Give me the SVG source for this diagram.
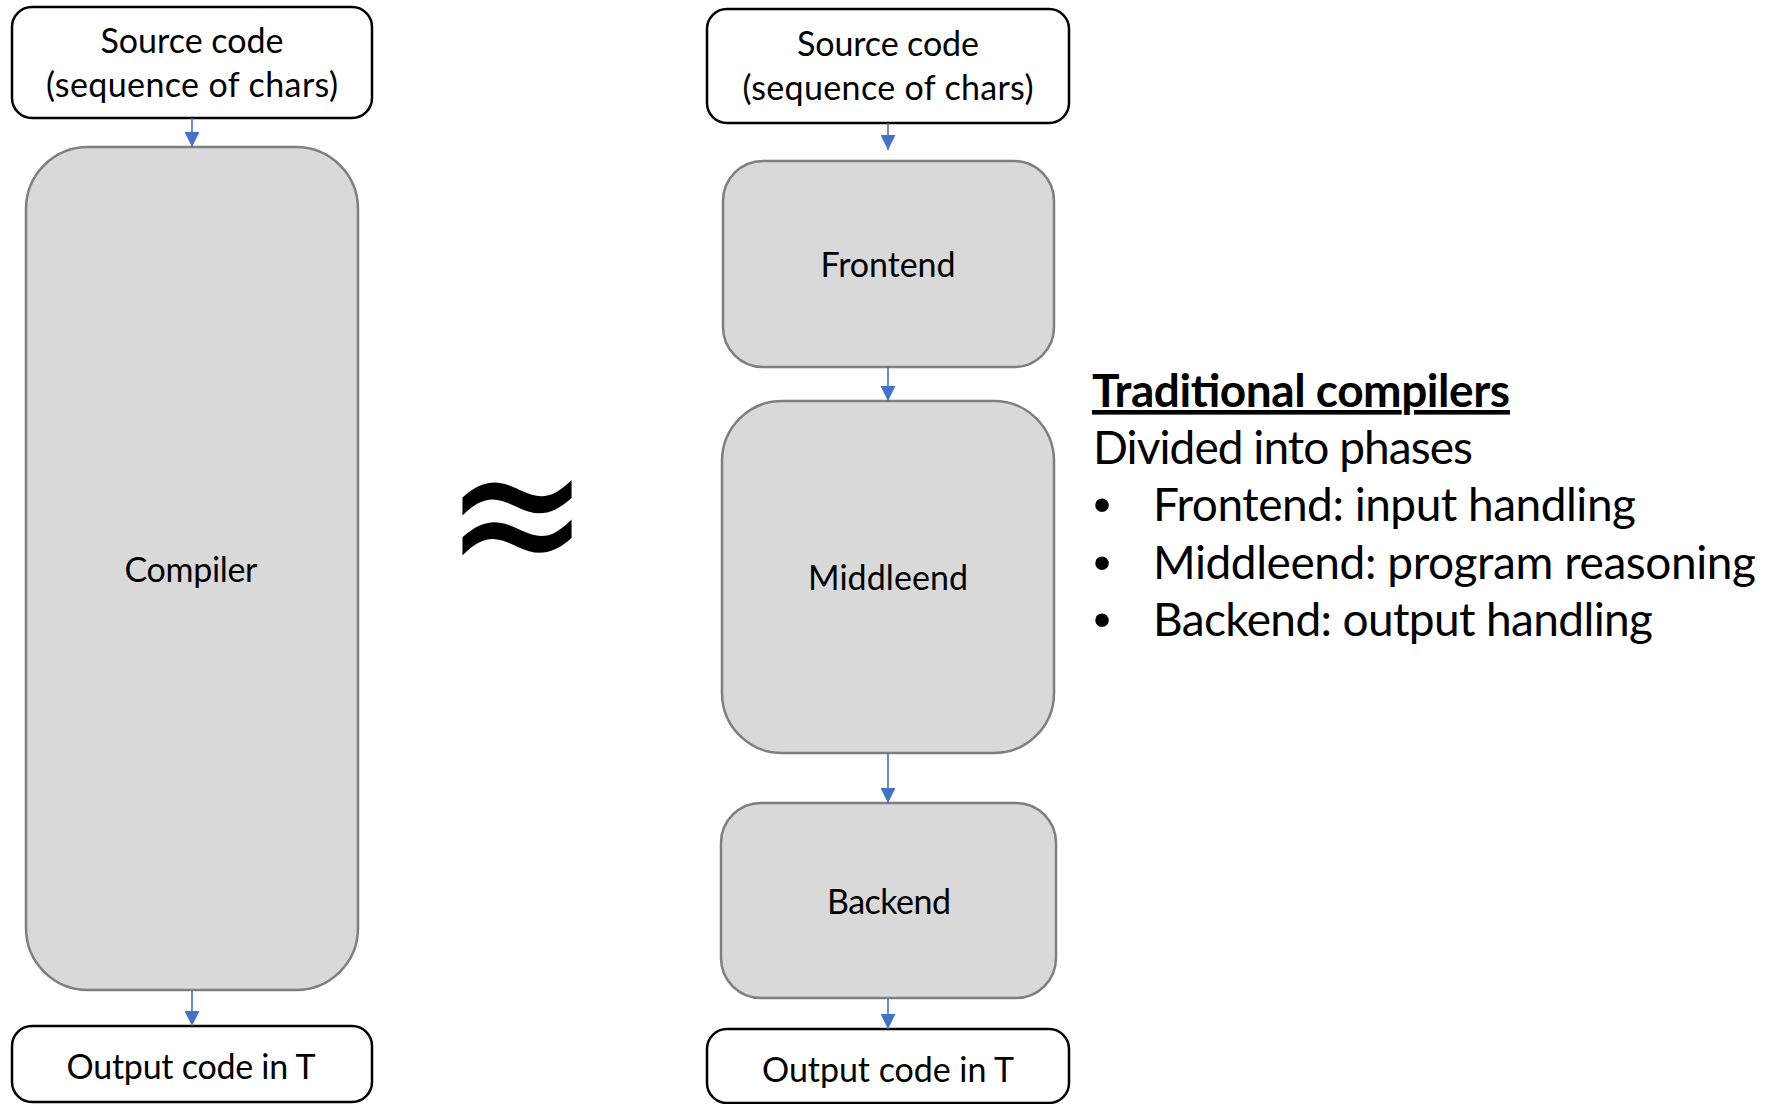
<svg xmlns="http://www.w3.org/2000/svg" width="1768" height="1104" viewBox="0 0 1768 1104">
  <defs>
    <marker id="arrowhead" markerUnits="userSpaceOnUse" markerWidth="15" markerHeight="15" viewBox="0 0 15 15" refX="15" refY="7.5" orient="auto">
      <path d="M0,0 L15,7.5 L0,15 z" fill="#4472c4"/>
    </marker>
    <style>
      .io { fill: #ffffff; stroke: #000000; stroke-width: 2.5; }
      .phase { fill: #d9d9d9; stroke: #7f7f7f; stroke-width: 2.5; }
      .label { font-family: Lato, "Liberation Sans", sans-serif; font-size: 34px; fill: #000000; text-anchor: middle; }
      .body { font-family: Lato, "Liberation Sans", sans-serif; font-size: 46px; fill: #000000; }
      .heading { font-weight: bold; text-decoration: underline; }
      .bullet { font-family: "Liberation Sans", sans-serif; font-size: 50px; fill: #000000; text-anchor: middle; }
      .flow { stroke: #4472c4; stroke-width: 1.6; fill: none; marker-end: url(#arrowhead); }
    </style>
  </defs>
  <rect width="1768" height="1104" fill="#ffffff"/>

  <!-- monolithic compiler -->
  <g id="src-left">
    <rect class="io" x="12" y="7" width="360" height="111" rx="20"/>
    <text class="label" x="192" y="53" textLength="183">Source code</text>
    <text class="label" x="192" y="97" textLength="292">(sequence of chars)</text>
  </g>
  <g id="compiler">
    <rect class="phase" x="26" y="147" width="332" height="843" rx="62"/>
    <text class="label" x="191" y="582" textLength="133">Compiler</text>
  </g>
  <g id="out-left">
    <rect class="io" x="12" y="1026" width="360" height="76" rx="20"/>
    <text class="label" x="191" y="1079" textLength="249">Output code in T</text>
  </g>

  <!-- approximately equal -->
  <text id="approx" transform="translate(517,518) scale(1.09,1.3)" x="0" y="50" font-family="DejaVu Sans, sans-serif" font-size="160" text-anchor="middle" fill="#000000">≈</text>

  <!-- phased compiler -->
  <g id="src-right">
    <rect class="io" x="707" y="9" width="362" height="114" rx="20"/>
    <text class="label" x="888" y="56" textLength="182">Source code</text>
    <text class="label" x="888" y="100" textLength="291">(sequence of chars)</text>
  </g>
  <g id="frontend">
    <rect class="phase" x="723" y="161" width="331" height="206" rx="40"/>
    <text class="label" x="888" y="277" textLength="135">Frontend</text>
  </g>
  <g id="middleend">
    <rect class="phase" x="722" y="401" width="332" height="352" rx="60"/>
    <text class="label" x="888" y="590" textLength="160">Middleend</text>
  </g>
  <g id="backend">
    <rect class="phase" x="721" y="803" width="335" height="195" rx="40"/>
    <text class="label" x="889" y="914" textLength="124">Backend</text>
  </g>
  <g id="out-right">
    <rect class="io" x="707" y="1029" width="362" height="74" rx="20"/>
    <text class="label" x="888" y="1082" textLength="252">Output code in T</text>
  </g>

  <g id="connectors">
    <line class="flow" x1="192" y1="118" x2="192" y2="147"/>
    <line class="flow" x1="192" y1="990" x2="192" y2="1026"/>
    <line class="flow" x1="888" y1="123" x2="888" y2="150"/>
    <line class="flow" x1="888" y1="367" x2="888" y2="401"/>
    <line class="flow" x1="888" y1="753" x2="888" y2="803"/>
    <line class="flow" x1="888" y1="998" x2="888" y2="1029"/>
  </g>

  <!-- description -->
  <g id="notes">
    <text class="body heading" x="1092" y="407" textLength="418">Traditional compilers</text>
    <text class="body" x="1093" y="464" textLength="380">Divided into phases</text>
    <text class="bullet" x="1102" y="522">•</text>
    <text class="body" x="1153" y="521" textLength="483">Frontend: input handling</text>
    <text class="bullet" x="1102" y="580">•</text>
    <text class="body" x="1153" y="579" textLength="603">Middleend: program reasoning</text>
    <text class="bullet" x="1102" y="637">•</text>
    <text class="body" x="1153" y="636" textLength="500">Backend: output handling</text>
  </g>
</svg>
